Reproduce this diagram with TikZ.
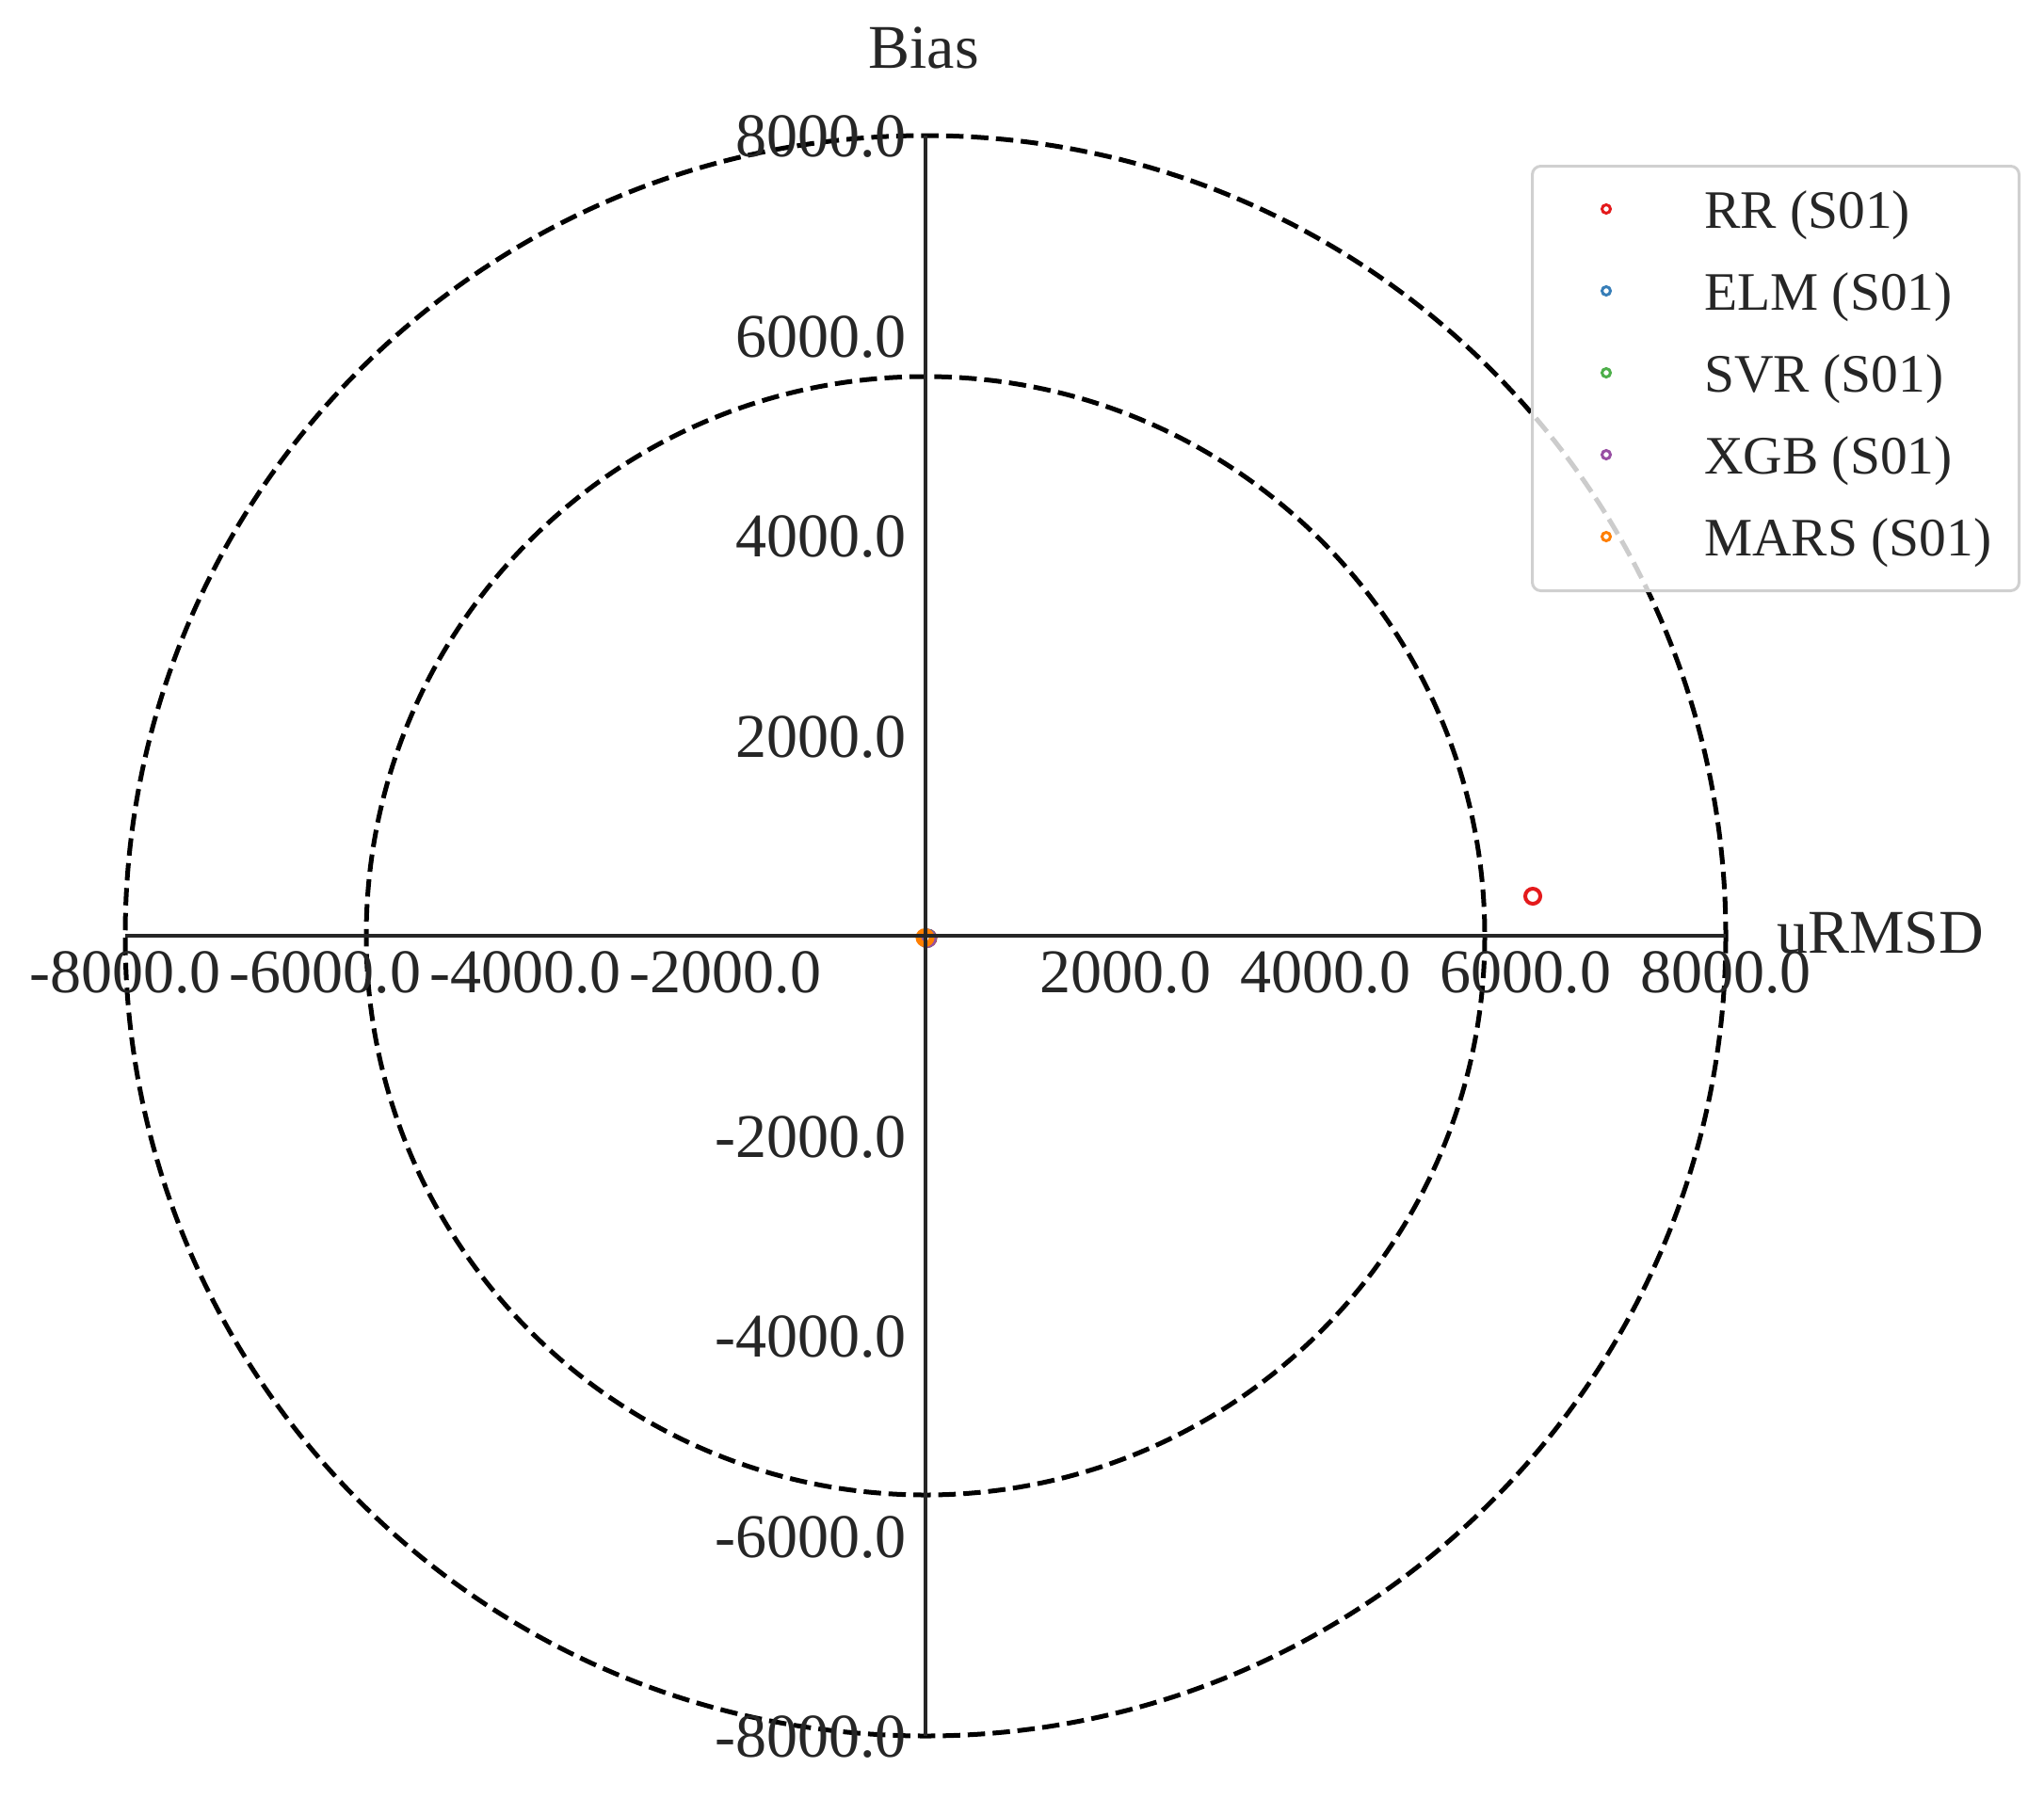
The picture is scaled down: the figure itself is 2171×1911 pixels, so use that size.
\documentclass[tikz,border=0pt]{standalone}
\usepackage{fontspec}
\setmainfont{Liberation Serif}
\definecolor{axgray}{HTML}{262626}
\definecolor{legborder}{HTML}{D0D0D0}
\definecolor{cRR}{HTML}{E41A1C}
\definecolor{cELM}{HTML}{377EB8}
\definecolor{cSVR}{HTML}{4DAF4A}
\definecolor{cXGB}{HTML}{984EA3}
\definecolor{cMARS}{HTML}{FF7F00}
\begin{document}
\begin{tikzpicture}[x=1pt,y=-1pt,
  ticklab/.style={text=axgray, inner sep=0pt, font=\fontsize{66}{66}\selectfont},
  legtxt/.style={text=axgray, inner sep=0pt, anchor=base west, font=\fontsize{57.5}{57.5}\selectfont},
  axisline/.style={draw=axgray, line width=4.5pt},
  dashcirc/.style={draw=black, line width=5pt, dash pattern=on 18.5pt off 8pt},
  ring/.style={circle, draw=#1, line width=4pt, minimum size=16pt, inner sep=0pt, outer sep=0pt},
  cring/.style={circle, draw=#1, line width=6pt, minimum size=14pt, inner sep=0pt, outer sep=0pt},
  legring/.style={circle, draw=#1, line width=3pt, minimum size=9pt, inner sep=0pt, outer sep=0pt}
]
\useasboundingbox (0,0) rectangle (2171,1911);
\fill[white] (0,0) rectangle (2171,1911);

\coordinate (C) at (983,994);
\coordinate (L) at (133,994);
\coordinate (R) at (1833,994);
\coordinate (T) at (983,144);
\coordinate (B) at (983,1844);

% reference circles
\draw[dashcirc] (C) circle[radius=850];
\draw[dashcirc] (C) circle[radius=594];

% data points
\node[ring=cRR] (pRR) at (1628,952) {};
\node[cring=cRR] (p1) at (985.5,996.5) {};
\node[cring=cELM] (p2) at (985,996.5) {};
\node[cring=cSVR] (p3) at (984.5,997) {};
\node[cring=cXGB] (p4) at (984.5,997) {};
\node[cring=cMARS] (p5) at (982.5,996) {};

% axes
\draw[axisline] (L) -- (R);
\draw[axisline] (T) -- (B);

% x tick labels
\foreach \v/\x in {-8000.0/133, -6000.0/345.5, -4000.0/558, -2000.0/770.5, 2000.0/1195.5, 4000.0/1408, 6000.0/1620.5, 8000.0/1833}
  \node[ticklab, anchor=base] (xl\x) at (\x,1054) {\v};
% y tick labels
\foreach \v/\y in {8000.0/144, 6000.0/356.5, 4000.0/569, 2000.0/781.5, -2000.0/1206.5, -4000.0/1419, -6000.0/1631.5, -8000.0/1844}
  \node[ticklab, anchor=base east] (yl\y) at (963,\y+22.5) {\v};

% axis titles
\node[ticklab, anchor=base] (bias) at (981,73) {Bias};
\node[ticklab, anchor=base west] (urmsd) at (1887,1012) {uRMSD};

% legend
\node[draw=legborder, line width=3pt, rounded corners=9pt, fill=white, fill opacity=0.8,
      minimum width=517pt, minimum height=451pt, inner sep=0pt, anchor=north west] (leg) at (1626,175) {};
\foreach \c/\t/\k in {cRR/RR/0, cELM/ELM/1, cSVR/SVR/2, cXGB/XGB/3, cMARS/MARS/4}{
  \node[legring=\c] (lm\k) at (1706,222+87*\k) {};
  \node[legtxt] (lt\k) at (1810,242+87*\k) {\t\ (S01)};
}
\end{tikzpicture}
\end{document}
